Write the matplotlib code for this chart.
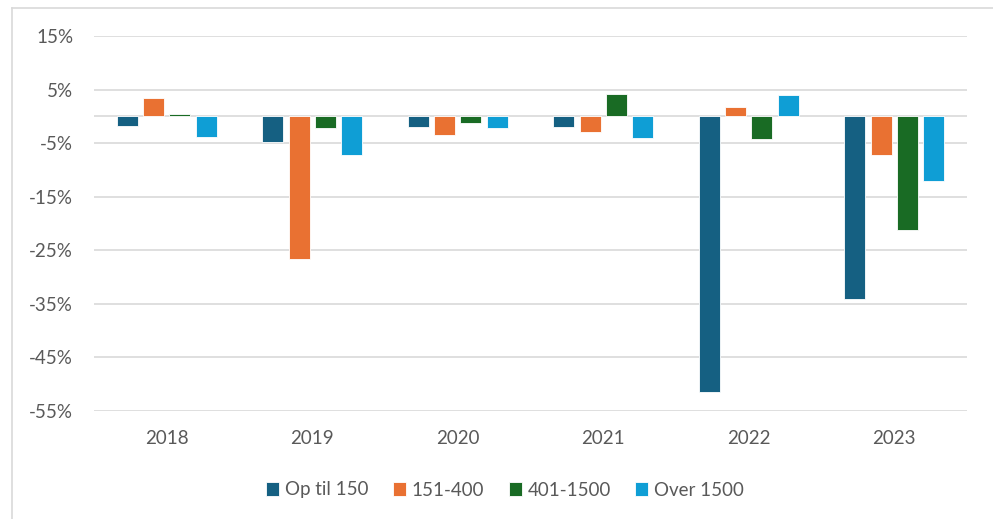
import matplotlib
matplotlib.use("Agg")
import matplotlib.pyplot as plt
from matplotlib.lines import Line2D
from matplotlib.ticker import FuncFormatter
import numpy as np

years = ["2018", "2019", "2020", "2021", "2022", "2023"]
series_names = ["Op til 150", "151-400", "401-1500", "Over 1500"]
op_til_150 = [-1.8, -4.8, -2.0, -2.0, -51.4, -34.1]
s151_400 = [3.4, -26.6, -3.4, -2.9, 1.7, -7.3]
s401_1500 = [0.4, -2.2, -1.3, 4.2, -4.2, -21.3]
over_1500 = [-3.8, -7.2, -2.1, -4.1, 4.0, -12.1]
series_values = [op_til_150, s151_400, s401_1500, over_1500]
colors = ["#156082", "#E97132", "#196B24", "#0F9ED5"]
yticks = [15, 5, -5, -15, -25, -35, -45, -55]

plt.rcParams['font.family'] = ['Lato', 'DejaVu Sans']
text_color = "#595959"
grid_color = "#D9D9D9"

fig = plt.figure(figsize=(9.93, 5.19), dpi=100)
W, H = 993, 519
ax = fig.add_axes([94 / W, 1 - 411 / H, (967 - 94) / W, (411 - 36) / H])

x = np.arange(len(years))
step = 0.181
width = 0.145
for i, (name, vals, c) in enumerate(zip(series_names, series_values, colors)):
    offs = (i - 1.5) * step
    ax.bar(x + offs, vals, width=width, color=c, label=name,
           edgecolor="white", linewidth=0.6, zorder=3)

ax.set_xlim(-0.5, len(years) - 0.5)
ax.set_ylim(-55, 15)
ax.set_yticks(yticks)
ax.yaxis.set_major_formatter(FuncFormatter(lambda v, p: f"{int(v)}%"))
for yv in yticks + [0]:
    ax.axhline(yv, color=grid_color, linewidth=1.2, zorder=1)
ax.set_xticks(x)
ax.set_xticklabels(years)
ax.tick_params(axis='both', length=0, labelsize=13.5, colors=text_color)
ax.tick_params(axis='y', pad=15)
ax.tick_params(axis='x', pad=14)
for s in ax.spines.values():
    s.set_visible(False)

leg = fig.legend(loc="center", bbox_to_anchor=(505 / W, 1 - 490 / H), ncol=4,
                 frameon=False, fontsize=13.5, handlelength=0.7, handleheight=0.7,
                 handletextpad=0.3, columnspacing=1.3)
for t in leg.get_texts():
    t.set_color(text_color)

# chart-area frame
fig.add_artist(Line2D([12 / W, 12 / W], [0, 1 - 8 / H], transform=fig.transFigure,
                      color=grid_color, linewidth=1.2))
fig.add_artist(Line2D([12 / W, 1], [1 - 8 / H, 1 - 8 / H], transform=fig.transFigure,
                      color=grid_color, linewidth=1.2))

fig.savefig("out.png", dpi=100)
